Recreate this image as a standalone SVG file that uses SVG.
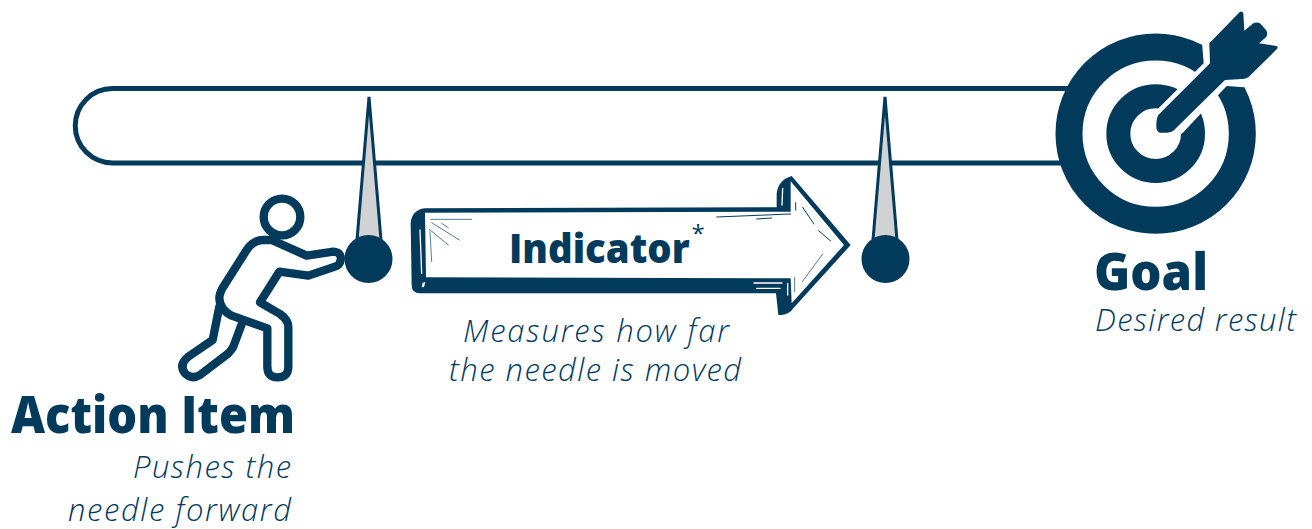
<svg xmlns="http://www.w3.org/2000/svg" width="1312" height="529" viewBox="0 0 1312 529">
<style>
.d{fill:#023a5c}
.w{fill:#fff}
.o{fill:none;stroke:#023a5c;stroke-linejoin:round;stroke-linecap:round}
.n{fill:#d0d2d3;stroke:#023a5c;stroke-width:3;stroke-linejoin:miter}
.h{font-family:"Open Sans","Noto Sans",sans-serif;font-weight:800;fill:#023a5c}
.i{font-family:"Open Sans","Noto Sans",sans-serif;font-weight:300;font-style:italic;fill:#023a5c;font-size:31px}
.t{fill:none;stroke:#023a5c;stroke-width:3;stroke-linecap:round}
.s{fill:none;stroke:#fff;stroke-width:4;stroke-linecap:round}
</style>
<g id="track"><path class="o" stroke-width="5" d="M1075 88.500H112.500a37 37 0 0 0 0 74.500H1075"/></g>
<g id="goal">
<g transform="translate(1040 0) scale(.33333)">
<circle class="o" cx="347" cy="401" r="260" stroke-width="81" style="fill:#fff"/>
<circle class="o" cx="347" cy="401" r="112" stroke-width="72"/>
<path class="w" d="M486 128L491 190L335 345L425 402L560 258L612 262L720 200L620 50Z"/>
<path class="d" d="M355 345L510 190L508 130L600 35Q607 32 610 40L613 92L640 70Q650 65 660 70L678 90Q685 100 678 112L657 130L710 138Q716 142 710 148L625 232Q615 238 605 237L555 240L400 392Q390 400 360 398Q348 395 349 375Q349 355 355 345Z"/>
</g>
</g>
<g id="needle-start">
<path class="n" d="M369 97L357 240H381Z"/>
<circle class="d" cx="368.500" cy="259" r="24"/>
</g>
<g id="needle-end">
<path class="n" d="M885 97L873 240H897Z"/>
<circle class="d" cx="885.500" cy="259" r="24"/>
</g>
<g id="person">
<g transform="translate(160 90) scale(.33333)">
<circle class="o" cx="366" cy="381" r="55" stroke-width="25"/>
<path class="o" stroke-width="25" d="M310 450H335L440 497L520 485Q545 487 542 510Q540 525 525 530L445 557L358 545L300 637L360 672Q385 690 385 710V830Q385 862 352 862Q322 862 322 830V715L215 677Q180 660 178 625Q178 610 190 590L260 480Q280 450 310 450Z"/>
<path class="o" stroke-width="25" d="M178 650L158 750L85 800Q55 825 75 850Q95 870 120 855L205 790Q215 780 220 770L248 695"/>
</g>
</g>
<g id="indicator-arrow">
<g transform="translate(400 160) scale(.33333)">
<path class="d" d="M32 190Q35 150 75 145L1130 142V100Q1135 60 1175 48L1352 255L1180 445Q1165 468 1135 465L1128 400H60Q35 400 35 375Z"/>
<path class="w" d="M75 158L1172 155V64L1332 255L1175 430L1172 355L78 352Z"/>
<path class="s" d="M60 210L65 340M1148 85L1146 135M1062 369H1146M1070 385H1140M1163 370V405"/>
<path class="w" d="M68 368L76 366L72 382L65 381Z"/>
<path class="t" d="M950 171L1172 162M1070 177L1115 174M1208 142L1242 192M1256 212L1292 243M1187 128V150"/>
<path class="t" style="stroke-width:2" d="M92 178H215M95 188L178 240M88 208L145 255M90 215L95 305M125 190L145 203M1268 282L1207 365M1184 352V396"/>
</g>
</g>
<g id="labels">
<text class="h" transform="translate(509 263) scale(.935 1)" font-size="41">Indicator</text>
<text class="h" x="691.500" y="242" font-size="24" style="font-weight:400">*</text>
<text class="i" x="463" y="342" textLength="266">Measures how far</text>
<text class="i" x="449" y="381" textLength="292">the needle is moved</text>
<text class="h" x="1094" y="290" font-size="52" textLength="114" lengthAdjust="spacingAndGlyphs">Goal</text>
<text class="i" x="1095" y="331" textLength="201">Desired result</text>
<text class="h" x="11" y="433" font-size="52" textLength="284" lengthAdjust="spacingAndGlyphs">Action Item</text>
<text class="i" x="133" y="478" textLength="158">Pushes the</text>
<text class="i" x="68" y="521" textLength="223">needle forward</text>
</g>
</svg>
